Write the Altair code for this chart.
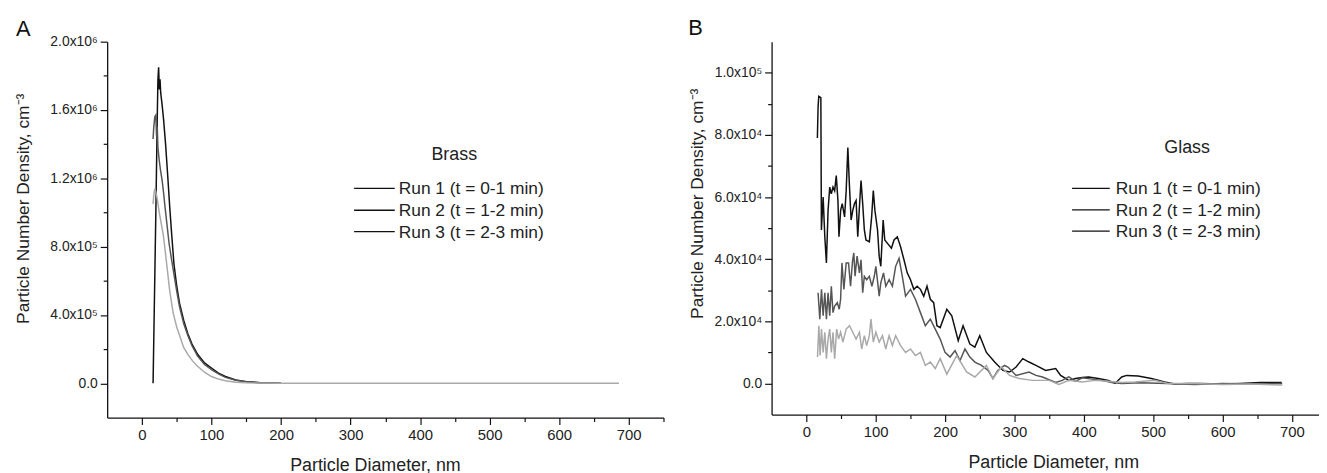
import altair as alt
import pandas as pd

FONT = "Liberation Sans"
RUNS = ["Run 1 (t = 0-1 min)", "Run 2 (t = 1-2 min)", "Run 3 (t = 2-3 min)"]
RUN_COLORS = ["#111111", "#555555", "#a9a9a9"]

# ---------------- Panel A : Brass (particle number density, cm^-3) ----------------
brass_r1_d = [16, 18, 20, 22, 23, 24, 25, 26, 27, 29, 31, 34, 37, 40, 43, 46, 50, 54, 60, 66,
              72, 80, 90, 100, 110, 120, 135, 150, 170, 200]
brass_r1_n = [0, 0.5e6, 1.0e6, 1.55e6, 1.78e6, 1.85e6, 1.72e6, 1.78e6, 1.70e6, 1.63e6, 1.55e6,
              1.40e6, 1.22e6, 1.03e6, 0.86e6, 0.70e6, 0.57e6, 0.47e6, 0.37e6, 0.29e6, 0.23e6,
              0.17e6, 0.12e6, 0.09e6, 0.06e6, 0.04e6, 0.02e6, 0.01e6, 0.004e6, 0]

brass_r2_d = [16, 17, 18.5, 20, 21, 22, 23, 25, 27, 29, 31, 33, 36, 39, 42, 46, 50, 54, 60, 66,
              72, 80, 90, 100, 110, 120, 135, 150, 170, 200]
brass_r2_n = [1.43e6, 1.50e6, 1.56e6, 1.57e6, 1.45e6, 1.50e6, 1.38e6, 1.30e6, 1.24e6, 1.19e6,
              1.12e6, 1.04e6, 0.93e6, 0.82e6, 0.74e6, 0.64e6, 0.54e6, 0.45e6, 0.35e6, 0.28e6,
              0.22e6, 0.16e6, 0.11e6, 0.08e6, 0.055e6, 0.035e6, 0.018e6, 0.009e6, 0.004e6, 0]

brass_r3_d = [16, 17, 18.5, 20, 22, 25, 28, 31, 35, 40, 45, 50, 55, 60, 66, 73, 80, 90, 100, 110,
              120, 135, 150, 200, 300, 400, 500, 600, 686]
brass_r3_n = [1.05e6, 1.10e6, 1.14e6, 1.12e6, 1.08e6, 1.00e6, 0.93e6, 0.86e6, 0.72e6, 0.54e6,
              0.41e6, 0.33e6, 0.27e6, 0.21e6, 0.17e6, 0.13e6, 0.10e6, 0.065e6, 0.04e6, 0.025e6,
              0.015e6, 0.007e6, 0.003e6, 0, 0, 0, 0, 0, 0]

# ---------------- Panel B : Glass (particle number density, cm^-3) ----------------
glass_r1_d = [16, 17, 18, 21, 21.8, 24.3, 26.7, 29, 31.4, 33.8, 36.1, 38.5, 40.9, 43.2, 45.6,
              47.1, 49.5, 51.8, 55.2, 57.5, 59.9, 62.3, 64.6, 67, 69.5, 71.8, 74.2, 76.6, 78.9,
              81.3, 83.7, 86, 90.9, 94.2, 96.6, 98.9, 102.7, 105.1, 107.4, 110.8, 113.1, 117,
              122.7, 126.5, 131.2, 135.9, 140.8, 145.5, 150.2, 155, 159.8, 164.5, 169.3, 174,
              178.8, 183.6, 188.3, 193, 202.6, 209.7, 219, 226, 235.8, 243, 250, 259.6, 271.5,
              283.4, 293, 302.4, 312, 321, 331, 345, 359.5, 366.6, 378.5, 388, 397.6, 407, 421,
              435.5, 445, 454.6, 461.8, 478.3, 497.4, 516.4, 530.7, 549.6, 568.7, 597, 625.6,
              654.3, 685.2]
glass_r1_n = [7.9e4, 8.9e4, 9.24e4, 9.2e4, 4.94e4, 6.0e4, 4.72e4, 3.88e4, 5.57e4, 6.32e4, 6.1e4,
              6.32e4, 6.2e4, 6.69e4, 5.9e4, 4.72e4, 5.57e4, 5.79e4, 5.36e4, 6.2e4, 7.59e4,
              6.32e4, 5.26e4, 5.57e4, 5.79e4, 5.89e4, 4.72e4, 5.68e4, 6.53e4, 5.79e4, 4.94e4,
              4.62e4, 4.56e4, 5.36e4, 6.21e4, 5.57e4, 4.94e4, 4.09e4, 3.77e4, 5.26e4, 4.62e4,
              4.51e4, 4.35e4, 4.62e4, 4.72e4, 4.4e4, 3.98e4, 3.56e4, 3.34e4, 3.03e4, 3.13e4,
              3.03e4, 2.81e4, 3.13e4, 2.71e4, 2.6e4, 1.86e4, 1.8e4, 2.39e4, 2.18e4, 1.38e4,
              1.86e4, 1.27e4, 1.17e4, 1.54e4, 1.0e4, 0.69e4, 0.42e4, 0.37e4, 0.53e4, 0.8e4,
              0.69e4, 0.58e4, 0.42e4, 0.48e4, 0.26e4, 0.1e4, 0.16e4, 0.19e4, 0.21e4, 0.16e4,
              0.1e4, 0.0, 0.21e4, 0.26e4, 0.24e4, 0.16e4, 0.05e4, -0.02e4, 0.0, 0.0, -0.02e4,
              0.0, 0.03e4, 0.03e4]

glass_r2_d = [17, 19.5, 21.9, 24.3, 26.7, 29, 31.4, 33.8, 36.1, 38.5, 40.9, 44.7, 47.5, 49.5,
              51.4, 54.2, 57.5, 60.9, 63.8, 66.6, 68.5, 70.3, 73.2, 76.6, 78.9, 81.3, 83.7, 87,
              90.9, 94.6, 98, 100.3, 105.1, 107.4, 111.3, 114.6, 119.4, 124.1, 128.8, 133.7,
              138.4, 143.1, 150.2, 157.3, 164.5, 171.6, 178.8, 185.9, 193, 200, 207.3, 214.4,
              221.6, 228.7, 235.8, 243, 252.5, 262, 269, 276, 285.8, 290.6, 302.4, 321, 331,
              340.5, 359.5, 369, 378.5, 388, 397.6, 411.8, 426, 440.4, 454.6, 480, 520, 560, 600,
              640, 686]
glass_r2_n = [2.92e4, 2.07e4, 3.03e4, 2.18e4, 2.92e4, 2.07e4, 2.92e4, 2.18e4, 3.13e4, 2.28e4,
              2.49e4, 2.6e4, 2.39e4, 2.71e4, 3.88e4, 3.03e4, 3.88e4, 3.88e4, 3.13e4, 3.93e4,
              4.2e4, 3.45e4, 4.1e4, 3.56e4, 3.98e4, 2.92e4, 3.45e4, 3.34e4, 3.45e4, 3.13e4,
              3.45e4, 3.77e4, 2.81e4, 3.24e4, 3.56e4, 3.13e4, 3.34e4, 3.13e4, 3.77e4, 4.03e4,
              3.45e4, 2.81e4, 3.03e4, 2.71e4, 2.28e4, 1.86e4, 2.07e4, 1.75e4, 1.43e4, 1.0e4,
              0.85e4, 1.06e4, 0.74e4, 1.11e4, 0.85e4, 0.69e4, 0.58e4, 0.42e4, 0.16e4, 0.42e4,
              0.58e4, 0.53e4, 0.26e4, 0.37e4, 0.26e4, 0.21e4, 0.03e4, 0.1e4, 0.21e4, 0.07e4,
              0.18e4, 0.14e4, 0.1e4, 0.03e4, 0.0, 0.02e4, 0.0, -0.03e4, 0.0, -0.02e4, 0.0]

glass_r3_d = [16.2, 18.1, 20, 21.9, 24.3, 26.7, 29, 31.4, 33.8, 36.1, 38.5, 40.9, 43.8, 46.6,
              49.5, 52.8, 57.5, 62.3, 67, 71.8, 76.6, 79.9, 83.7, 87, 90.9, 93.2, 96.6, 100.3,
              105.1, 109.8, 114.6, 119.4, 124.1, 128.8, 135.9, 143.1, 150.2, 157.3, 164.5, 171.6,
              178.8, 185.9, 193, 202.6, 216.8, 231, 243, 259.6, 269, 281, 293, 307, 326, 350, 364,
              378.5, 397.6, 416.5, 435.5, 454.6, 473.6, 502, 521, 560, 600, 640, 686]
glass_r3_n = [0.85e4, 1.86e4, 0.9e4, 1.75e4, 1.0e4, 1.65e4, 0.8e4, 1.43e4, 1.75e4, 1.0e4, 1.65e4,
              0.8e4, 1.75e4, 1.43e4, 1.65e4, 1.33e4, 1.75e4, 1.86e4, 1.65e4, 1.43e4, 1.65e4,
              1.11e4, 1.54e4, 1.22e4, 1.54e4, 2.07e4, 1.33e4, 1.65e4, 1.33e4, 1.54e4, 1.11e4,
              1.54e4, 1.22e4, 1.54e4, 1.22e4, 1.0e4, 1.11e4, 0.9e4, 1.0e4, 0.58e4, 0.69e4,
              0.48e4, 0.8e4, 0.3e4, 0.9e4, 0.37e4, 0.21e4, 0.58e4, 0.16e4, 0.53e4, 0.26e4,
              0.16e4, 0.1e4, 0.1e4, -0.03e4, 0.1e4, 0.05e4, 0.1e4, 0.07e4, 0.03e4, 0.05e4,
              0.1e4, 0.0, 0.0, -0.03e4, -0.02e4, -0.05e4]

# axis tick values and labels
x_ticks_a = list(range(0, 751, 50))
x_ticks_b = list(range(0, 701, 50))
y_ticks_a = [i * 200000 for i in range(0, 11)]
y_labels_a = [(0, "0.0"), (400000, "4.0x10⁵"), (800000, "8.0x10⁵"), (1200000, "1.2x10⁶"),
              (1600000, "1.6x10⁶"), (2000000, "2.0x10⁶")]
y_ticks_b = [i * 10000 for i in range(0, 11)]
y_labels_b = [(0, "0.0"), (20000, "2.0x10⁴"), (40000, "4.0x10⁴"), (60000, "6.0x10⁴"),
              (80000, "8.0x10⁴"), (100000, "1.0x10⁵")]

X_TITLE = "Particle Diameter, nm"
Y_TITLE = "Particle Number Density, cm⁻³"


def frame(runs):
    rows = []
    for (d, n), run in zip(runs, RUNS):
        for xi, yi in zip(d, n):
            rows.append({"d": xi, "n": yi, "run": run})
    return pd.DataFrame(rows)


def label_expr(pairs):
    s = ""
    for v, lab in pairs:
        s += f"abs(datum.value - ({v})) < 1 ? '{lab}' : "
    return s + "''"


def panel(df, letter, letter_dx, letter_dy, legend_title, lg, xdomain, xticks, ydomain, yticks,
          ylabels, ymajor, width, height, ytitle_x, ytitle_y, xtitle_x):
    x = alt.X("d:Q", scale=alt.Scale(domain=xdomain, nice=False, zero=False),
              axis=alt.Axis(values=xticks, title=X_TITLE, grid=False,
                            labelExpr="datum.value % 100 == 0 ? datum.label : ''",
                            tickSize={"condition": {"test": "datum.value % 100 != 0", "value": 4}, "value": 7},
                            labelPadding=3, labelFontSize=15, titleFontSize=18, titlePadding=14,
                            titleX=xtitle_x, labelOverlap=False, labelFlush=False))
    y = alt.Y("n:Q", scale=alt.Scale(domain=ydomain, nice=False, zero=False),
              axis=alt.Axis(values=yticks, title=Y_TITLE, grid=False,
                            labelExpr=label_expr(ylabels),
                            tickSize={"condition": {"test": f"datum.value % {ymajor} != 0", "value": 4}, "value": 7},
                            labelPadding=3, labelFontSize=14, titleFontSize=17.5,
                            titleX=ytitle_x, titleY=ytitle_y, labelOverlap=False, labelFlush=False))
    lines = alt.Chart(df).mark_line(strokeWidth=1.5, clip=True).encode(
        x=x, y=y,
        color=alt.Color("run:N", scale=alt.Scale(domain=RUNS, range=RUN_COLORS), legend=None),
    )
    layers = [lines]
    layers.append(alt.Chart(pd.DataFrame({"t": [letter]})).mark_text(
        fontSize=22, align="left", baseline="alphabetic", color="#111").encode(
        text="t:N", x=alt.value(letter_dx), y=alt.value(letter_dy)))
    layers.append(alt.Chart(pd.DataFrame({"t": [legend_title]})).mark_text(
        fontSize=18, align="center", baseline="alphabetic", color="#222").encode(
        text="t:N", x=alt.value(lg["title_x"]), y=alt.value(lg["title_y"])))
    for run, ry in zip(RUNS, lg["rows"]):
        layers.append(alt.Chart(pd.DataFrame({"t": [run]})).mark_rule(
            color="#111", strokeWidth=1.3).encode(
            x=alt.value(lg["x1"]), x2=alt.value(lg["x2"]), y=alt.value(ry)))
        layers.append(alt.Chart(pd.DataFrame({"t": [run]})).mark_text(
            fontSize=17.5, align="left", baseline="middle", color="#222").encode(
            text="t:N", x=alt.value(lg["tx"]), y=alt.value(ry + 1)))
    return alt.layer(*layers).properties(width=width, height=height)


df_a = frame([(brass_r1_d, brass_r1_n), (brass_r2_d, brass_r2_n), (brass_r3_d, brass_r3_n)])
df_b = frame([(glass_r1_d, glass_r1_n), (glass_r2_d, glass_r2_n), (glass_r3_d, glass_r3_n)])

leg_a = {"title_x": 350, "title_y": 119, "x1": 249, "x2": 290, "tx": 294, "rows": [148, 170, 191.5]}
leg_b = {"title_x": 419, "title_y": 112, "x1": 303, "x2": 341, "tx": 347, "rows": [148, 169.5, 191]}

chart_a = panel(df_a, "A", -92, -6, "Brass", leg_a, [-50, 750], x_ticks_a, [-200000, 2000000],
                y_ticks_a, y_labels_a, 400000, 561, 379, -75, 168, 270)
chart_b = panel(df_b, "B", -84, -7, "Glass", leg_b, [-50, 739], x_ticks_b, [-10000, 110000],
                y_ticks_b, y_labels_b, 20000, 552, 376, -66, 163, 284)

chart = alt.hconcat(chart_a, chart_b, spacing=24).properties(
    padding={"left": 7, "top": 7, "right": 0, "bottom": 0}
).configure(font=FONT).configure_view(stroke=None).configure_axis(
    domainColor="#111", domainWidth=1.3, tickColor="#111", tickWidth=1.2,
    labelColor="#222", titleColor="#222", labelFont=FONT, titleFont=FONT,
    titleFontWeight="normal"
)

chart.save("out.html", embed_options={"renderer": "svg", "actions": False})
